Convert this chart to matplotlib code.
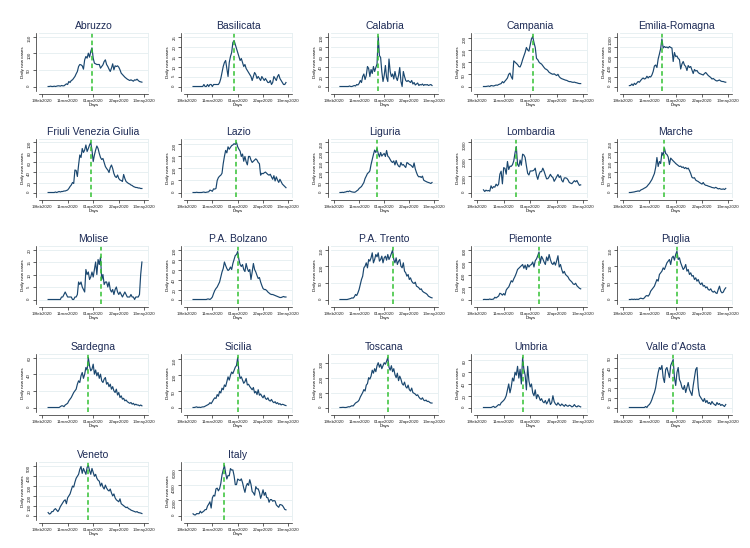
import matplotlib
matplotlib.use("Agg")
import matplotlib.pyplot as plt
import numpy as np
import pandas as pd

plt.rcParams["font.family"] = ["Liberation Sans", "DejaVu Sans"]

# daily new cases, 24feb2020 onwards
abruzzo = [0,0,1,0,0,1, 0,1,2,2,1,3,2,2,5,8, 6,15,12,18,20,25,30,38,45,60,
           66,65,62,52,80,90,85,100,88,105,116, 85,70,68,66,66,66,55,60,65,75,
           80,66,60,52,45,55,68,50,62,60, 62,58,50,40,36,32,28,25,22,20,
           18,20,18,16,20,19,22,18,15,14,13]
basilicata = [0,0,0,0,0,0, 0,0,0,1,0,0,1,0,1,1, 0,1,1,1,1,1,2,4,7,10,
              12,13,9,5,12,15,17,22,23,21,19, 17,15,13,14,12,10,11,9,8,7,
              6,5,3,5,7,6,4,5,4,3, 5,4,3,4,3,2,2,3,1,2, 5,4,3,5,6,4,3,2,1,1,2]
calabria = [0,0,0,0,0,0, 0,0,1,0,0,1,2,1,4,3, 6,12,8,20,25,14,22,40,36,20,
            34,26,40,30,38,45,100,62,58,30,10, 22,42,18,10,55,30,20,25,15,30,
            18,12,22,38,10,0,30,20,12,10, 12,10,8,12,5,8,3,5,7,2,
            4,3,5,2,4,3,4,2,3,4,2]
campania = [0,0,0,1,2,0, 4,3,2,4,6,5,8,10,12,20, 15,22,28,35,50,55,40,30,105,100,
            95,90,82,80,92,110,125,140,160,150,145, 170,195,205,180,160,115,110,100,95,92,
            85,78,72,70,65,58,55,52,50,52, 48,45,50,40,35,32,30,28,26,25,
            22,20,20,18,17,18,16,15,13,12,12]
emilia = [18,21,50,20,65,40, 70,100,85,120,150,170,150,160,205,170,
          200,190,230,300,410,430,380,550,650,760,
          950,770,800,780,790,770,800,780,770,500,680, 600,610,560,540,350,450,500,430,400,320,
          420,380,400,330,260,340,310,320,280,260, 250,240,230,260,280,250,220,200,180,150,
          160,140,120,110,120,130,110,100,100,90,85]
friuli = [0,0,0,0,0,0, 1,0,1,2,1,2,2,3,3,4, 5,8,12,15,20,18,45,44,32,55,
          75,70,88,80,85,95,82,88,95,100,85, 62,75,85,93,88,78,70,66,68,60,
          52,48,45,40,50,55,48,38,32,30, 35,28,25,24,22,36,28,22,20,18,
          17,15,14,12,11,10,10,9,9,8,8]
lazio = [0,0,0,1,0,0, 0,0,1,2,0,1,2,3,10,8, 5,15,14,17,50,62,68,72,80,120,
         150,175,165,190,180,188,195,198,203,200,208, 190,180,172,150,160,130,150,128,115,150,
         150,135,125,130,135,140,135,125,120,72, 80,78,82,85,80,75,72,76,65,55,
         70,48,65,52,42,55,45,35,30,25,20]
liguria = [0,0,1,0,2,3, 6,4,8,5,3,2,1,3,8,12, 20,25,30,40,50,70,82,95,100,108,
           140,165,190,212,200,220,195,178,200,182,190, 195,180,210,182,176,165,155,150,158,138,
           160,142,132,128,150,137,140,132,125,150, 146,140,138,132,125,148,118,100,85,78,
           80,75,82,62,58,55,52,50,48,45,50]
lombardia = [160,60,140,100,120,80, 400,250,350,320,500,400,500,1100,1280,520,
             1490,1450,1100,1860,1380,1580,1570,1670,1900,2380,
             2750,1690,1560,1940,1640,2300,2250,2100,1600,1150,1050,
             1290,1290,1300,1340,1460,1040,790,1080,1250,1250,
             1460,1280,1040,820,830,940,1090,960,900,670,
             800,950,1080,900,1000,730,630,870,880,850,
             750,600,560,530,620,710,640,720,560,430,460]
marche = [0,0,1,2,3,5, 6,8,6,12,15,18,22,25,30,38, 45,55,65,80,95,125,175,130,155,145,
          200,185,222,195,190,178,140,172,165,158,152, 145,140,135,130,132,125,128,120,125,118,
          122,110,95,76,72,74,62,58,55,50, 46,42,50,40,36,35,32,30,28,25,
          24,22,26,22,18,20,17,16,18,15,20]
molise = [0,0,0,0,0,0, 0,0,0,0,0,1,1,2,3,2, 1,1,1,1,0,0,1,1,2,7,
          6,7,5,4,3,12,10,11,8,9,11, 9,12,15,10,16,14,17,8,10,6,
          7,7,5,7,4,3,4,2,4,5, 3,2,3,2,1,2,3,2,1,1, 1,2,1,1,0,1,1,1,2,10,15]
bolzano = [0,0,0,0,0,0, 0,0,0,0,0,0,1,1,0,2, 5,12,18,22,25,30,35,45,55,62,
           75,68,62,58,60,65,60,72,80,88,90, 96,80,70,66,70,60,56,72,62,56,
           60,40,55,72,60,55,48,42,44,35, 28,22,20,20,18,15,13,11,10,10,
           9,8,7,6,5,4,4,5,6,5,5]
trento = [0,0,0,0,0,0, 0,1,2,3,5,4,8,15,12,20, 30,45,60,70,95,100,110,95,120,115,
          125,140,110,120,135,128,140,115,120,130,110, 125,130,118,135,120,128,138,148,120,110,
          125,105,115,120,100,95,110,85,80,70, 75,60,65,55,50,48,52,40,38,35,
          30,32,25,22,20,18,15,10,8,6,5]
piemonte = [0,2,0,1,0,8, 1,3,7,36,25,40,55,100,90,70, 95,70,150,180,200,250,300,280,330,370,
            420,480,500,520,540,560,500,550,480,560,520, 550,560,600,520,620,650,700,760,580,690,
            650,600,560,680,620,720,640,580,560,600, 550,620,700,520,560,480,420,450,400,380,
            360,320,300,280,250,240,260,220,200,180,170]
puglia = [0,0,1,0,1,0, 1,0,2,4,3,2,5,10,12,10, 15,25,30,35,40,50,60,55,75,80,
          85,95,90,100,110,115,120,105,125,130,118, 135,145,120,125,110,100,90,95,105,85,
          90,75,80,70,72,60,65,55,60,50, 45,50,40,42,35,38,30,28,32,25,
          22,25,20,18,30,40,25,20,22,30,35]
sardegna = [0,0,0,0,0,0, 0,0,0,0,1,2,2,1,3,4, 5,8,10,12,15,18,20,22,28,32,
            30,38,42,35,40,48,45,60,50,44,46, 52,40,45,38,42,35,40,32,30,34,
            36,28,30,25,28,22,25,20,18,22, 15,18,12,14,10,11,8,9,7,6,
            5,6,4,5,3,4,3,3,2,3,2]
sicilia = [0,0,1,2,0,1, 0,1,2,2,4,6,8,10,15,12, 18,25,30,28,40,35,50,45,60,55,
           70,65,80,95,85,100,110,105,115,125,130, 155,110,90,95,85,75,80,90,70,72,
           65,60,55,62,45,50,40,55,38,42, 35,30,38,28,25,30,22,20,25,18,
           15,18,12,15,10,12,8,10,9,7,6]
toscana = [0,0,1,1,0,0, 2,5,4,8,12,10,20,30,35,40, 50,70,85,100,120,110,150,160,200,190,
           210,250,230,260,240,280,300,270,290,260,280, 300,290,310,335,270,250,280,240,260,220,
           200,230,180,210,190,160,150,170,140,130, 150,120,110,130,100,95,90,80,85,70,
           60,55,65,50,45,50,40,42,35,30,30]
umbria = [0,0,0,0,0,0, 0,1,2,0,1,3,5,4,8,10, 12,15,20,30,40,25,35,50,45,60,
          55,70,50,65,40,85,65,55,30,70,45, 35,40,25,20,30,15,22,18,12,15,
          10,8,12,6,10,15,5,8,20,10, 6,4,8,5,3,6,4,2,5,3,
          2,4,3,1,2,5,2,1,3,2,1]
valle_aosta = [0,0,0,0,0,0, 0,0,0,0,0,0,0,1,0,2, 3,5,8,12,15,20,28,35,40,38,
               42,30,25,38,40,35,30,42,45,48,30, 22,35,40,28,25,20,18,22,15,20,
               25,18,15,12,22,30,38,40,20,12, 10,8,6,9,5,7,4,5,3,6,
               4,3,2,5,3,4,2,3,2,1,3]
veneto = [30,15,20,40,40,60, 70,55,40,60,90,110,130,150,160,120,
          180,200,220,260,300,290,340,380,400,420,
          470,500,430,480,450,420,490,510,460,420,480, 440,400,420,380,360,350,300,330,290,270,
          310,280,260,250,270,230,200,220,180,160, 150,140,170,120,110,100,90,80,85,70,
          65,55,50,45,40,35,40,30,28,25,20]
italy = [221,93,78,250,238,240, 566,342,466,587,769,778,1247,1492,1797,977,
         2313,2651,2547,3497,3590,3233,3526,4207,5322,5986,
         6557,5560,4789,5249,5210,6153,5959,5974,5217,4050,4053,
         4782,4668,4585,4805,4316,3599,3039,3836,4204,3951,
         4694,4092,3153,2972,2667,3786,3493,3491,3047,2256,
         2729,3370,2646,3021,2357,2324,1739,2091,2086,1872,
         1965,1900,1389,1221,1075,1444,1401,1327,1083,802,744]

regions = ["Abruzzo", "Basilicata", "Calabria", "Campania", "Emilia-Romagna",
           "Friuli Venezia Giulia", "Lazio", "Liguria", "Lombardia", "Marche",
           "Molise", "P.A. Bolzano", "P.A. Trento", "Piemonte", "Puglia",
           "Sardegna", "Sicilia", "Toscana", "Umbria", "Valle d'Aosta",
           "Veneto", "Italy"]
series = [abruzzo, basilicata, calabria, campania, emilia, friuli, lazio, liguria,
          lombardia, marche, molise, bolzano, trento, piemonte, puglia, sardegna,
          sicilia, toscana, umbria, valle_aosta, veneto, italy]
yticks = [[0, 50, 100, 150], [0, 5, 10, 15, 20, 25], [0, 20, 40, 60, 80, 100],
          [0, 50, 100, 150, 200], [0, 200, 400, 600, 800, 1000], [0, 20, 40, 60, 80, 100],
          [0, 50, 100, 150, 200], [0, 50, 100, 150, 200, 250], [0, 1000, 2000, 3000],
          [0, 50, 100, 150, 200, 250], [0, 5, 10, 15, 20], [0, 20, 40, 60, 80, 100],
          [0, 50, 100, 150], [0, 200, 400, 600, 800], [0, 50, 100, 150], [0, 20, 40, 60],
          [0, 50, 100, 150], [0, 100, 200, 300], [0, 20, 40, 60, 80],
          [0, 10, 20, 30, 40, 50], [0, 100, 200, 300, 400, 500], [0, 2000, 4000, 6000]]

xtick_dates = pd.to_datetime(["2020-02-19", "2020-03-11", "2020-04-01", "2020-04-22", "2020-05-13"])
xtick_labels = ["19feb2020", "11mar2020", "01apr2020", "22apr2020", "13may2020"]

W, H = 750, 548
fig = plt.figure(figsize=(W / 100, H / 100), dpi=100)

# pixel frame of each panel's plot region
col_left = [39, 184, 331, 474, 620]
col_right = [148, 292, 438, 587, 732]
row_top = [33, 139, 246, 354, 462]
ax_h = 58

navy = "#1a476f"
grid_c = "#e4eef0"

for i, (name, vals, yt) in enumerate(zip(regions, series, yticks)):
    r, c = divmod(i, 5)
    ax = fig.add_axes([col_left[c] / W, 1 - (row_top[r] + ax_h) / H,
                       (col_right[c] - col_left[c]) / W, ax_h / H])
    dates = pd.date_range("2020-02-24", periods=len(vals))
    vals = np.array(vals)
    ax.plot(dates, vals, color=navy, lw=0.85)
    ax.axvline(dates[np.argmax(vals)], color="#33c133", lw=1.1, ls=(0, (3, 2)))

    top = max(yt[-1], vals.max())
    ax.set_ylim(-0.09 * top, top * 1.07)
    ax.set_xlim(xtick_dates[0] - pd.Timedelta(days=2.5), xtick_dates[-1] + pd.Timedelta(days=3))
    ax.set_yticks(yt)
    ax.set_yticklabels([str(v) for v in yt])
    ax.set_xticks(xtick_dates)
    ax.set_xticklabels(xtick_labels)
    ax.tick_params(length=2, width=0.5, pad=1.5, colors="#222222", labelsize=3.2)
    ax.tick_params(axis="y", labelrotation=90)
    for lab in ax.get_yticklabels():
        lab.set_va("center")
    ax.grid(axis="y", color=grid_c, lw=0.6)
    ax.set_axisbelow(True)

    for s in ["left", "bottom"]:
        ax.spines[s].set_position(("outward", 2))
        ax.spines[s].set_linewidth(0.5)
        ax.spines[s].set_color("#222222")
    for s in ["top", "right"]:
        ax.spines[s].set_color(grid_c)
        ax.spines[s].set_linewidth(0.6)

    ax.set_title(name, fontsize=7.5, color="#1c2a55", pad=3)
    ax.set_ylabel("Daily new cases", fontsize=3.2, labelpad=1.5)
    ax.set_xlabel("Days", fontsize=3.2, labelpad=0.5)

fig.savefig("out.png", dpi=100, facecolor="white")
